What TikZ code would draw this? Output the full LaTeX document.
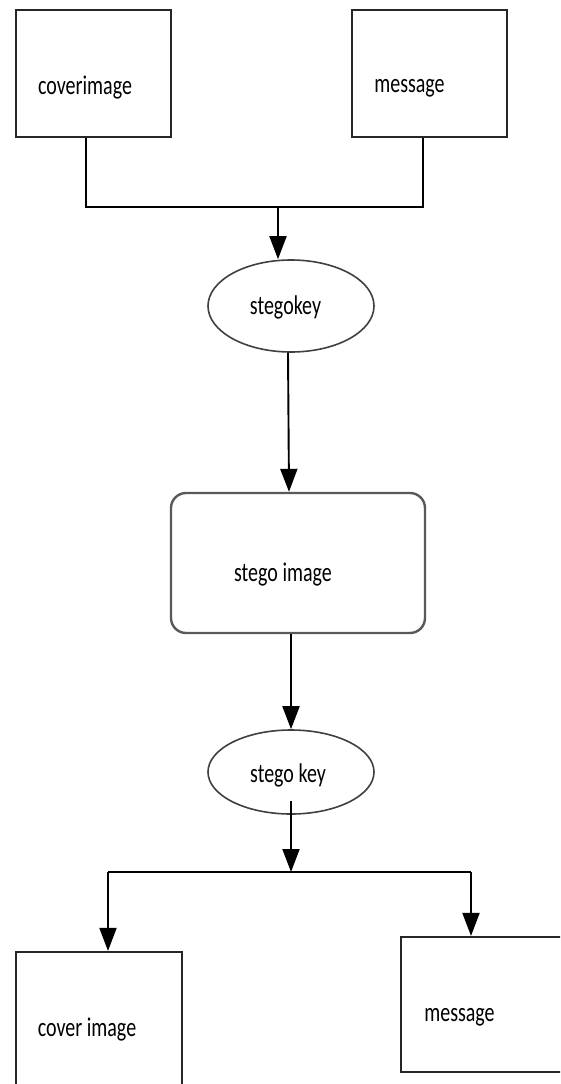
\documentclass[tikz,border=0pt]{standalone}
\usepackage{fontspec}
\usepackage{graphicx}
\setmainfont{Carlito}
\usetikzlibrary{arrows.meta,shapes.geometric,calc}
\newcommand\stretchtxt[1]{\scalebox{1}[1.35]{#1}}
\begin{document}
\begin{tikzpicture}[x=1pt,y=-1pt,
  box/.style={draw=black!85,line width=2.2pt,rectangle,inner sep=0pt},
  rbox/.style={draw=black!65,line width=2.4pt,rectangle,rounded corners=15pt,inner sep=0pt},
  oval/.style={draw=black!75,line width=1.6pt,ellipse,inner sep=0pt},
  lbl/.style={inner sep=0pt,font=\fontsize{20}{24}\selectfont},
  conn/.style={line width=1.9pt},
  arr/.style={conn,-{Triangle[length=23pt,width=17pt]}}]
\useasboundingbox (0,0) rectangle (560,1084);
\clip (0,0) rectangle (560,1084);
\fill[white] (0,0) rectangle (560,1084);

% shapes
\node[box,minimum width=155pt,minimum height=127pt] (cov1) at (93.5,73.5) {};
\node[box,minimum width=155pt,minimum height=127pt] (msg1) at (429.5,73.5) {};
\node[oval,minimum width=166pt,minimum height=92pt] (e1) at (291,306) {};
\node[rbox,minimum width=254pt,minimum height=140pt] (si) at (298,563) {};
\node[oval,minimum width=166pt,minimum height=84pt] (e2) at (291,772) {};
\node[box,minimum width=166pt,minimum height=148pt] (cov2) at (99,1026) {};
\node[box,minimum width=179pt,minimum height=135pt] (msg2) at (490.5,1004.5) {};

% labels
\node[lbl] (t1) at (85,88) {\stretchtxt{coverimage}};
\node[lbl] (t2) at (409.5,88) {\stretchtxt{message}};
\node[lbl] (t3) at (285.5,307) {\stretchtxt{stegokey}};
\node[lbl] (t4) at (283,575) {\stretchtxt{stego image}};
\node[lbl] (t5) at (288,775) {\stretchtxt{stego key}};
\node[lbl] (t6) at (87,1030) {\stretchtxt{cover image}};
\node[lbl] (t7) at (459.5,1017) {\stretchtxt{message}};

% junction coordinates
\coordinate (tl) at (86,207);
\coordinate (tr) at (423,207);
\coordinate (j1) at (278,207);
\coordinate (j2) at (291,872);
\coordinate (bl) at (108,872);
\coordinate (br) at (471,872);

% connectors
\draw[conn] (tl |- cov1.south) -- (tl) -- (tr) -- (tr |- msg1.south);
\draw[arr] (j1) -- (j1 |- e1.north);
\draw[arr] ($(e1.south)+(-3,0)$) -- ($(si.north)+(-9,0)$);
\draw[arr] ($(si.south)+(-7,0)$) -- (e2.north);
\draw[arr] ($(e2.south)+(0,-14)$) -- (j2);
\draw[conn] (bl) -- (br);
\draw[arr] (bl) -- (bl |- cov2.north);
\draw[arr] (br) -- (br |- msg2.north);
\end{tikzpicture}
\end{document}
